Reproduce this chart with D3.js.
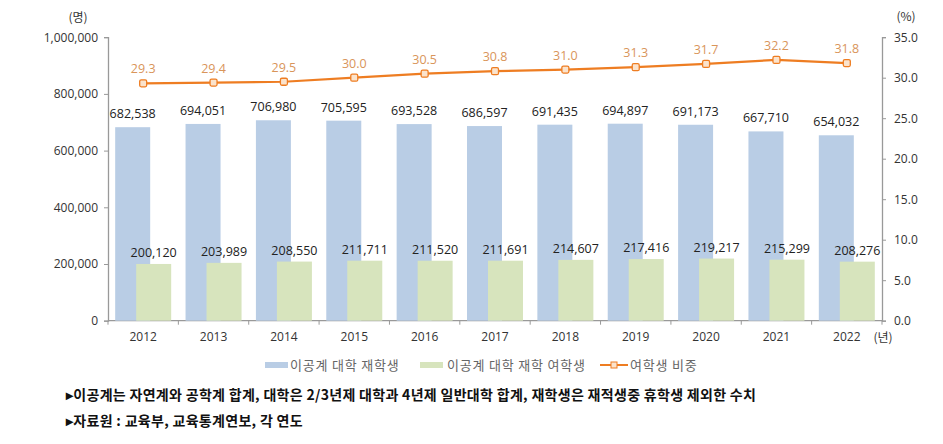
<!DOCTYPE html>
<html><head><meta charset="utf-8">
<script src="https://cdn.jsdelivr.net/npm/d3@7"></script>
<style>body{margin:0;background:#fff;}svg{display:block;font-family:"Noto Sans CJK KR","Noto Sans",sans-serif;}</style>
</head><body><svg id="c" width="943" height="444"></svg>
<script>
const years = ["2012","2013","2014","2015","2016","2017","2018","2019","2020","2021","2022"];
const totalStudents = [682538,694051,706980,705595,693528,686597,691435,694897,691173,667710,654032];
const femaleStudents = [200120,203989,208550,211711,211520,211691,214607,217416,219217,215299,208276];
const femaleRatio = [29.3,29.4,29.5,30.0,30.5,30.8,31.0,31.3,31.7,32.2,31.8];
const leftTicks = [0,200000,400000,600000,800000,1000000];
const rightTicks = [0,5,10,15,20,25,30,35];
const seriesNames = ["이공계 대학 재학생","이공계 대학 재학 여학생","여학생 비중"];
const notes = ["▸이공계는 자연계와 공학계 합계, 대학은 2/3년제 대학과 4년제 일반대학 합계, 재학생은 재적생중 휴학생 제외한 수치","▸자료원 : 교육부, 교육통계연보, 각 연도"];

const svg = d3.select("#c");
const L=108, R=882, T=37.2, B=320.7;
const x = d3.scaleBand().domain(years).range([L,R]);
const yL = d3.scaleLinear().domain([0,1000000]).range([B,T]);
const yR = d3.scaleLinear().domain([0,35]).range([B,T]);
const fmt = d3.format(",");
const blue="#b9cde5", green="#d7e4bd", orange="#ee7d22";
const bw=35, off=10.5;

// axes
const axL = svg.append("g").attr("transform",`translate(${L},0)`).call(d3.axisLeft(yL).tickValues(leftTicks).tickFormat(fmt).tickSize(4).tickPadding(6));
const axR = svg.append("g").attr("transform",`translate(${R},0)`).call(d3.axisRight(yR).tickValues(rightTicks).tickFormat(d3.format(".1f")).tickSize(4).tickPadding(8));
const axX = svg.append("g").attr("transform",`translate(0,${B})`).call(d3.axisBottom(x).tickSize(0).tickPadding(12));
axX.append("g").selectAll("line").data(years.map((d,i)=>L+i*x.step()).concat([R])).join("line")
  .attr("x1",d=>d).attr("x2",d=>d).attr("y1",0).attr("y2",4).attr("stroke","#999");
[axL,axR,axX].forEach(a=>{a.selectAll("path.domain").attr("stroke","#999").attr("stroke-width",1.3);a.selectAll(".tick line").attr("stroke","#999");a.selectAll("text").attr("fill","#333").attr("font-size",12).attr("font-family","'Open Sans','Noto Sans',sans-serif");});
axX.selectAll("path.domain").attr("d",`M${L},0H${R}`);

// bars
svg.append("g").selectAll("rect").data(years).join("rect")
  .attr("x",(d)=>x(d)+x.bandwidth()/2-off-bw/2).attr("width",bw)
  .attr("y",(d,i)=>yL(totalStudents[i])).attr("height",(d,i)=>B-yL(totalStudents[i])).attr("fill",blue);
svg.append("g").selectAll("rect").data(years).join("rect")
  .attr("x",(d)=>x(d)+x.bandwidth()/2+off-bw/2).attr("width",bw)
  .attr("y",(d,i)=>yL(femaleStudents[i])).attr("height",(d,i)=>B-yL(femaleStudents[i])).attr("fill",green);

// bar labels
const lf="'Open Sans','Noto Sans',sans-serif";
svg.append("g").selectAll("text").data(years).join("text")
  .attr("x",d=>x(d)+x.bandwidth()/2-off).attr("y",(d,i)=>yL(totalStudents[i])-9)
  .attr("text-anchor","middle").attr("font-size",12.5).attr("font-family",lf).attr("fill","#222").text((d,i)=>fmt(totalStudents[i]));
svg.append("g").selectAll("text").data(years).join("text")
  .attr("x",d=>x(d)+x.bandwidth()/2+off).attr("y",(d,i)=>yL(femaleStudents[i])-7)
  .attr("text-anchor","middle").attr("font-size",12.5).attr("font-family",lf).attr("fill","#222").text((d,i)=>fmt(femaleStudents[i]));

// line
const cx = d=>x(d)+x.bandwidth()/2;
svg.append("path").datum(years).attr("fill","none").attr("stroke",orange).attr("stroke-width",2.2)
  .attr("d",d3.line().x(cx).y((d,i)=>yR(femaleRatio[i])));
svg.append("g").selectAll("rect").data(years).join("rect")
  .attr("x",d=>cx(d)-3.5).attr("y",(d,i)=>yR(femaleRatio[i])-3.5).attr("width",7).attr("height",7).attr("rx",1.5)
  .attr("fill","#fbe3cc").attr("stroke",orange).attr("stroke-width",1.3);
svg.append("g").selectAll("text").data(years).join("text")
  .attr("x",cx).attr("y",(d,i)=>yR(femaleRatio[i])-10)
  .attr("text-anchor","middle").attr("font-size",12.5).attr("font-family",lf).attr("fill","#d9955a").text((d,i)=>femaleRatio[i].toFixed(1));

// units
svg.append("text").attr("x",78).attr("y",22).attr("text-anchor","middle").attr("font-size",12).attr("fill","#333").text("(명)");
svg.append("text").attr("x",906).attr("y",21).attr("text-anchor","middle").attr("font-size",12).attr("fill","#333").text("(%)");
svg.append("text").attr("x",883).attr("y",342).attr("text-anchor","middle").attr("font-size",12).attr("fill","#333").text("(년)");

// legend
const lg = svg.append("g");
const lt = (xx,t)=>lg.append("text").attr("x",xx).attr("y",370).attr("font-size",13).attr("letter-spacing",0.8).attr("fill","#666").text(t);
lg.append("rect").attr("x",265).attr("y",362).attr("width",23).attr("height",6).attr("fill",blue);
lt(290,seriesNames[0]);
lg.append("rect").attr("x",420).attr("y",362).attr("width",23).attr("height",6).attr("fill",green);
lt(447,seriesNames[1]);
lg.append("line").attr("x1",600).attr("x2",628).attr("y1",365).attr("y2",365).attr("stroke",orange).attr("stroke-width",2);
lg.append("rect").attr("x",611).attr("y",362).attr("width",6).attr("height",6).attr("fill","#fbe3cc").attr("stroke",orange);
lt(630,seriesNames[2]);

// notes
svg.append("text").attr("x",66).attr("y",400).attr("font-size",14).attr("letter-spacing",0.3).attr("font-weight","bold").attr("fill","#111").text(notes[0]);
svg.append("text").attr("x",66).attr("y",426).attr("font-size",14).attr("letter-spacing",0.3).attr("font-weight","bold").attr("fill","#111").text(notes[1]);
</script></body></html>
